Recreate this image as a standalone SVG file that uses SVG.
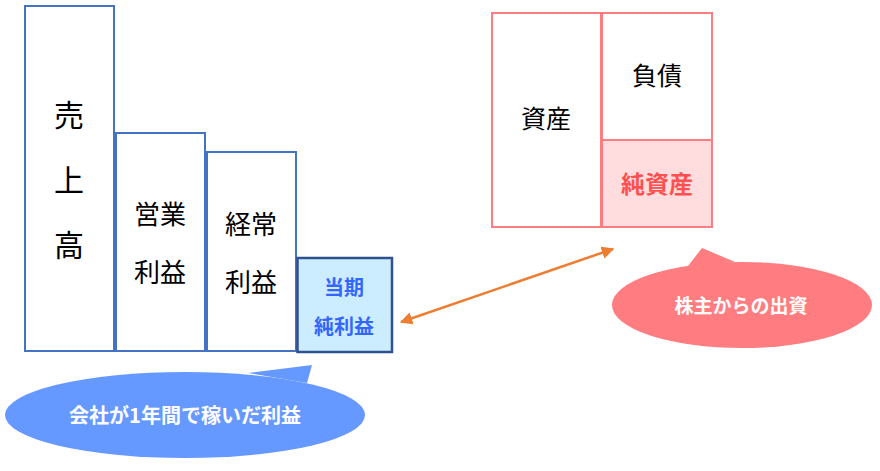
<svg xmlns="http://www.w3.org/2000/svg" width="880" height="471" viewBox="0 0 880 471">
<style>
text{font-family:"Noto Sans CJK JP","Noto Sans",sans-serif;text-anchor:middle;dominant-baseline:central}
.pl{fill:#fff;stroke:#4472C4;stroke-width:2}
.big{font-size:30px;fill:#000}
.mid{font-size:26px;fill:#000}
.bs{fill:#fff;stroke:#FF7C80;stroke-width:2}
.w{fill:#fff;font-weight:bold}
</style>
<defs>
<marker id="ah" viewBox="0 0 10 10" refX="9" refY="5" markerWidth="5" markerHeight="5" orient="auto-start-reverse" markerUnits="strokeWidth">
<path d="M0,0 L10,5 L0,10 z" fill="#ED7D31"/>
</marker>
</defs>
<g id="uriage">
<rect class="pl" x="25" y="6" width="89" height="345"/>
<text class="big" x="69" y="113">売</text>
<text class="big" x="69" y="178">上</text>
<text class="big" x="69" y="243">高</text>
</g>
<g id="eigyo">
<rect class="pl" x="116" y="133" width="89" height="218"/>
<text class="mid" x="160" y="212">営業</text>
<text class="mid" x="160" y="270">利益</text>
</g>
<g id="keijo">
<rect class="pl" x="207" y="152" width="89" height="199"/>
<text class="mid" x="251" y="222">経常</text>
<text class="mid" x="251" y="280">利益</text>
</g>
<g id="junrieki">
<rect x="297.5" y="258" width="94.5" height="94" fill="#CCECFF" stroke="#2F528F" stroke-width="2.5"/>
<text x="344" y="286" font-size="20" font-weight="bold" fill="#3366FF">当期</text>
<text x="344" y="325" font-size="20" font-weight="bold" fill="#3366FF">純利益</text>
</g>
<g id="shisan">
<rect class="bs" x="492" y="13" width="109" height="214"/>
<text x="546" y="117" font-size="25" fill="#000">資産</text>
</g>
<g id="fusai">
<rect class="bs" x="602" y="13" width="110" height="127"/>
<text x="657" y="74" font-size="25" fill="#000">負債</text>
</g>
<g id="junshisan">
<rect x="602" y="140" width="110" height="87" fill="#FFDDDE" stroke="#FF7C80" stroke-width="2"/>
<text x="657" y="182" font-size="24" font-weight="bold" fill="#FF5050">純資産</text>
</g>
<g id="callout-rieki">
<path d="M248,373 L312,365 L307,383 Z" fill="#6699FF"/>
<ellipse cx="185" cy="415" rx="180" ry="43" fill="#6699FF"/>
<text class="w" x="185" y="414" font-size="20">会社が1年間で稼いだ利益</text>
</g>
<g id="callout-shusshi">
<path d="M688,266 L702,248 L735,262 Z" fill="#FF7C80"/>
<ellipse cx="742" cy="305" rx="130" ry="43" fill="#FF7C80"/>
<text class="w" x="741" y="304" font-size="19">株主からの出資</text>
</g>
<g id="connectors">
<line x1="401" y1="322" x2="613" y2="249" stroke="#ED7D31" stroke-width="2.5" marker-start="url(#ah)" marker-end="url(#ah)"/>
</g>
</svg>
